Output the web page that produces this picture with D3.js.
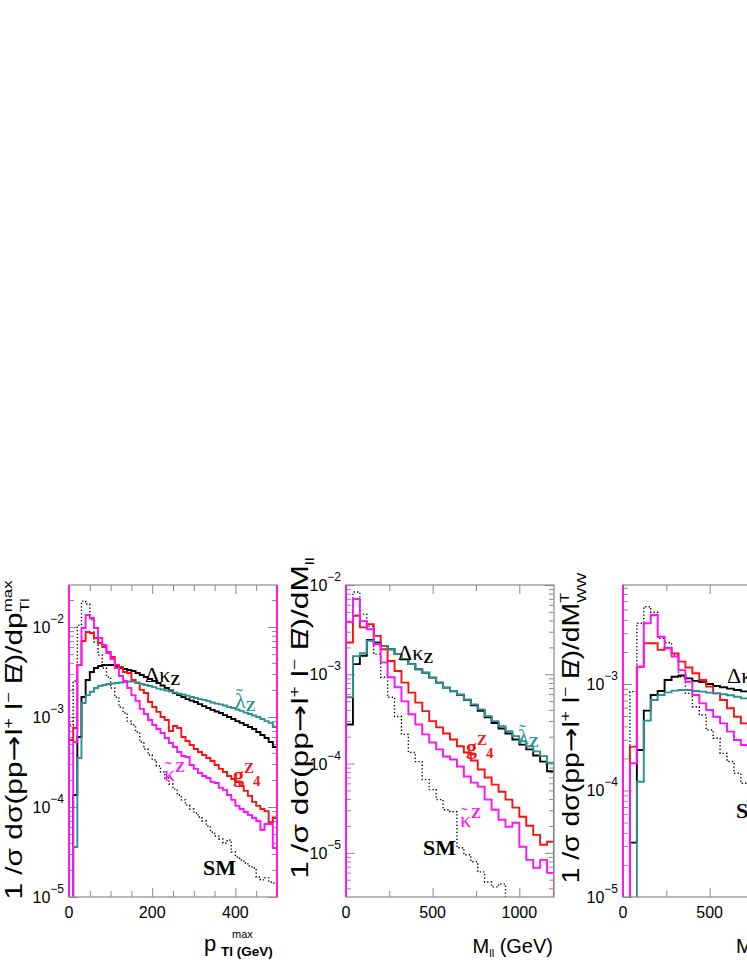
<!DOCTYPE html>
<html>
<head>
<meta charset="utf-8">
<script src="https://cdn.jsdelivr.net/npm/d3@7"></script>
<style>
  body { margin: 0; background: #fff; }
  svg { display: block; }
</style>
</head>
<body>
<div id="chart-area"></div>
<script>
// bin widths (GeV)
var ptBinWidth = 10, mllBinWidth = 40, mtBinWidth = 40;

// ---- panel 1 : p_T^max of the lepton, 10 GeV bins ----
var ptSM = [8.15e-4, 2.51e-3, 1.05e-2, 1.94e-2, 1.80e-2, 1.20e-2, 6.81e-3, 4.89e-3, 3.5e-3, 2.78e-3,
            2.10e-3, 1.67e-3, 1.29e-3, 1.11e-3, 9.0e-4, 8.15e-4, 6.81e-4, 5.27e-4, 4.41e-4, 3.78e-4,
            3.33e-4, 2.86e-4, 2.45e-4, 2.10e-4, 1.80e-4, 1.58e-4, 1.36e-4, 1.20e-4, 1.05e-4, 9.5e-5,
            8.58e-5, 7.74e-5, 6.99e-5, 6.15e-5, 5.27e-5, 4.76e-5, 4.41e-5, 3.98e-5, 4.3e-5, 3.16e-5,
            2.78e-5, 2.58e-5, 2.39e-5, 2.21e-5, 2.10e-5, 1.67e-5, 1.55e-5, 1.63e-5, 1.47e-5, 1.43e-5];
var ptDk = [0, 1.36e-4, 6.0e-4, 1.67e-3, 2.58e-3, 3.16e-3, 3.5e-3, 3.69e-3, 3.78e-3, 3.78e-3,
            3.78e-3, 3.69e-3, 3.5e-3, 3.41e-3, 3.33e-3, 3.24e-3, 3.08e-3, 2.93e-3, 2.78e-3, 2.64e-3,
            2.51e-3, 2.39e-3, 2.24e-3, 2.10e-3, 1.97e-3, 1.85e-3, 1.75e-3, 1.67e-3, 1.58e-3, 1.52e-3,
            1.47e-3, 1.39e-3, 1.32e-3, 1.26e-3, 1.20e-3, 1.15e-3, 1.11e-3, 1.05e-3, 1.0e-3, 9.5e-4,
            9.0e-4, 8.6e-4, 8.15e-4, 7.74e-4, 7.36e-4, 6.81e-4, 6.31e-4, 5.85e-4, 5.27e-4, 4.64e-4];
var ptG4 = [5.55e-4, 7.55e-4, 3.78e-3, 6.99e-3, 8.8e-3, 8.58e-3, 7.55e-3, 6.64e-3, 6.0e-3, 5.27e-3,
            4.64e-3, 3.78e-3, 3.59e-3, 3.16e-3, 3.08e-3, 2.58e-3, 2.39e-3, 2.0e-3, 1.85e-3, 1.47e-3,
            1.29e-3, 1.14e-3, 1.0e-3, 9.26e-4, 6.99e-4, 7.94e-4, 7.55e-4, 6.0e-4, 5.41e-4, 4.89e-4,
            4.41e-4, 4.08e-4, 3.78e-4, 3.5e-4, 3.25e-4, 2.93e-4, 2.65e-4, 2.45e-4, 2.21e-4, 2.05e-4,
            1.90e-4, 1.71e-4, 1.51e-4, 1.33e-4, 1.14e-4, 1.03e-4, 9.5e-5, 9.0e-5, 6.8e-5, 7.55e-5];
var ptLt = [0, 3.6e-5, 3.5e-4, 1.43e-3, 1.75e-3, 1.91e-3, 2.10e-3, 2.21e-3, 2.27e-3, 2.33e-3,
            2.36e-3, 2.39e-3, 2.42e-3, 2.45e-3, 2.47e-3, 2.47e-3, 2.42e-3, 2.33e-3, 2.27e-3, 2.21e-3,
            2.15e-3, 2.07e-3, 2.02e-3, 1.97e-3, 1.92e-3, 1.87e-3, 1.82e-3, 1.78e-3, 1.73e-3, 1.67e-3,
            1.63e-3, 1.58e-3, 1.55e-3, 1.51e-3, 1.45e-3, 1.41e-3, 1.38e-3, 1.34e-3, 1.29e-3, 1.26e-3,
            1.21e-3, 1.17e-3, 1.12e-3, 1.08e-3, 1.04e-3, 1.0e-3, 9.5e-4, 9.0e-4, 8.6e-4, 7.74e-4];
var ptKt = [0, 5.27e-4, 3.78e-3, 9.75e-3, 1.36e-2, 1.26e-2, 9.75e-3, 7.55e-3, 6.31e-3, 5.14e-3,
            4.41e-3, 3.5e-3, 2.86e-3, 2.51e-3, 2.10e-3, 1.75e-3, 1.51e-3, 1.23e-3, 1.08e-3, 9.26e-4,
            8.15e-4, 7.36e-4, 6.64e-4, 5.85e-4, 5.14e-4, 4.64e-4, 4.08e-4, 3.69e-4, 3.59e-4, 2.93e-4,
            2.65e-4, 2.39e-4, 2.21e-4, 2.10e-4, 1.90e-4, 1.85e-4, 1.63e-4, 1.55e-4, 1.36e-4, 1.20e-4,
            1.03e-4, 9.5e-5, 8.8e-5, 8.15e-5, 7.55e-5, 6.99e-5, 5.55e-5, 6.47e-5, 6.47e-5, 3.5e-5];

// ---- panel 2 : M_ll, 40 GeV bins ----
var mllSM = [3.84e-3, 8.34e-3, 4.72e-3, 3.46e-3, 1.68e-3, 9.25e-4, 5.52e-4, 3.37e-4, 2.12e-4, 1.33e-4,
             1.05e-4, 6.61e-5, 5.1e-5, 3.94e-5, 3.04e-5, 2.89e-5, 1.14e-5, 9.5e-6, 7.93e-6, 6.12e-6,
             4.72e-6, 4.15e-6, 4.49e-6, 0, 0, 0, 0, 0, 0, 0];
var mllDk = [2.74e-4, 1.30e-3, 1.61e-3, 2.42e-3, 2.27e-3, 2.08e-3, 1.91e-3, 1.68e-3, 1.47e-3, 1.30e-3,
             1.14e-3, 1.04e-3, 9.18e-4, 8.07e-4, 7.09e-4, 6.44e-4, 5.88e-4, 5.17e-4, 4.48e-4, 3.89e-4,
             3.29e-4, 2.85e-4, 2.47e-4, 2.17e-4, 1.86e-4, 1.63e-4, 1.44e-4, 1.23e-4, 1.05e-4, 8.19e-5];
var mllG4 = [2.27e-3, 4.52e-3, 3.35e-3, 3.65e-3, 2.69e-3, 1.91e-3, 1.41e-3, 1.09e-3, 8.07e-4, 6.23e-4,
             4.81e-4, 3.87e-4, 2.99e-4, 2.54e-4, 2.17e-4, 1.86e-4, 1.56e-4, 1.33e-4, 1.08e-4, 8.57e-5,
             6.97e-5, 5.81e-5, 4.84e-5, 3.94e-5, 3.21e-5, 2.54e-5, 2.01e-5, 1.59e-5, 1.23e-5, 1.33e-5];
var mllLt = [5.52e-4, 1.59e-3, 1.72e-3, 2.37e-3, 2.17e-3, 2.08e-3, 1.91e-3, 1.68e-3, 1.47e-3, 1.30e-3,
             1.14e-3, 1.04e-3, 9.18e-4, 8.07e-4, 7.09e-4, 6.49e-4, 5.96e-4, 5.24e-4, 4.60e-4, 4.04e-4,
             3.40e-4, 2.99e-4, 2.62e-4, 2.31e-4, 2.03e-4, 1.78e-4, 1.56e-4, 1.37e-4, 1.21e-4, 1.02e-4];
var mllKt = [3.84e-3, 6.96e-3, 3.94e-3, 3.2e-3, 2.17e-3, 1.36e-3, 9.25e-4, 7.15e-4, 4.97e-4, 3.56e-4,
             2.74e-4, 2.12e-4, 1.72e-4, 1.44e-4, 1.20e-4, 1.11e-4, 9.25e-5, 7.15e-5, 6.12e-5, 5.52e-5,
             3.94e-5, 3.04e-5, 2.35e-5, 1.96e-5, 2.17e-5, 1.17e-5, 8.34e-6, 6.78e-6, 8.34e-6, 5.96e-6];

// ---- panel 3 : transverse WW mass, 40 GeV bins (only the visible part) ----
var mtSM = [0, 8.47e-4, 3.72e-3, 5.32e-3, 4.71e-3, 2.69e-3, 2.44e-3, 1.87e-3, 1.17e-3, 8.17e-4,
            6.12e-4, 5.12e-4, 3.70e-4, 3.09e-4, 2.23e-4, 1.87e-4, 1.45e-4, 1.17e-4, 1.01e-4];
var mtDk = [0, 3.24e-5, 2.40e-4, 5.62e-4, 7.88e-4, 8.6e-4, 1.09e-3, 1.17e-3, 1.20e-3, 1.13e-3,
            1.07e-3, 1.04e-3, 1.0e-3, 9.58e-4, 9.31e-4, 9.04e-4, 8.79e-4, 8.53e-4, 8.29e-4];
var mtG4 = [0, 2.58e-4, 1.45e-3, 2.41e-3, 2.41e-3, 2.09e-3, 2.18e-3, 1.94e-3, 1.62e-3, 1.43e-3,
            1.26e-3, 1.09e-3, 9.44e-4, 8.17e-4, 7.08e-4, 5.91e-4, 4.93e-4, 4.27e-4, 3.83e-4];
var mtLt = [0, 0, 1.21e-4, 4.53e-4, 7.08e-4, 7.88e-4, 8.35e-4, 8.66e-4, 8.79e-4, 8.79e-4,
            8.60e-4, 8.47e-4, 8.29e-4, 8.17e-4, 8.0e-4, 7.83e-4, 7.6e-4, 7.33e-4, 7.18e-4];
var mtKt = [0, 1.80e-4, 1.45e-3, 3.72e-3, 4.45e-3, 2.78e-3, 2.16e-3, 1.81e-3, 1.35e-3, 1.05e-3,
            7.88e-4, 6.58e-4, 5.7e-4, 4.93e-4, 4.27e-4, 3.57e-4, 2.98e-4, 2.67e-4, 2.49e-4];

var colors = {sm: "#000", dk: "#000", g4: "#ff1010", lt: "#2a9292", kt: "#ff10ff"};
var sans = "'Liberation Sans', Arial, Helvetica, sans-serif";
var serif = "'Liberation Serif', 'Times New Roman', serif";

var plotTop = 585, plotH = 312, plotW = 208;

var panels = [
  {left: 69, xMax: 500, binW: ptBinWidth, yDom: [1e-5, 2.93e-2], xStep: 50, xMajorStep: 200,
   xLabels: [0, 200, 400], magentaRight: true,
   series: {sm: ptSM, dk: ptDk, g4: ptG4, lt: ptLt, kt: ptKt}},
  {left: 346, xMax: 1200, binW: mllBinWidth, yDom: [3.2e-6, 1e-2], xStep: 250, xMajorStep: 500,
   xLabels: [0, 500, 1000], magentaRight: false,
   series: {sm: mllSM, dk: mllDk, g4: mllG4, lt: mllLt, kt: mllKt}},
  {left: 623, xMax: 1200, binW: mtBinWidth, yDom: [1e-5, 8.5e-3], xStep: 250, xMajorStep: 500,
   xLabels: [0, 500, 1000], magentaRight: false,
   series: {sm: mtSM, dk: mtDk, g4: mtG4, lt: mtLt, kt: mtKt}}
];

var svg = d3.select("#chart-area").append("svg")
    .attr("width", 747)
    .attr("height", 967)

function histPoints(vals, bw) {
  var pts = [[0, 0]];
  vals.forEach(function(v, i) {
    pts.push([i * bw, v]);
    pts.push([(i + 1) * bw, v]);
  });
  pts.push([vals.length * bw, 0]);
  return pts;
}

panels.forEach(function(p, pi) {
  var g = svg.append("g").attr("transform", "translate(" + p.left + "," + plotTop + ")");

  var x = d3.scaleLinear().domain([0, p.xMax]).range([0, plotW]);
  var y = d3.scaleLog().domain(p.yDom).range([plotH, 0]);

  g.append("clipPath").attr("id", "clip" + pi)
    .append("rect").attr("width", plotW).attr("height", plotH);

  // ticks (inside the frame, all four sides)
  var yt = y.ticks();
  var isDecade = function(d) { return Math.abs(Math.log10(d) - Math.round(Math.log10(d))) < 1e-6; };
  var yMajor = yt.filter(isDecade), yMinor = yt.filter(function(d) { return !isDecade(d); });
  var xt = d3.range(0, p.xMax + 1, p.xStep);
  var xMajor = xt.filter(function(d) { return d % p.xMajorStep === 0; });
  var xMinor = xt.filter(function(d) { return d % p.xMajorStep !== 0; });

  function styleAxis(sel) {
    sel.select(".domain").remove();
    sel.selectAll(".tick line").attr("stroke", "#8a8a8a").attr("stroke-width", 1);
  }
  [[yMajor, 9], [yMinor, 5]].forEach(function(a) {
    g.append("g").call(d3.axisLeft(y).tickValues(a[0]).tickSize(-a[1]).tickFormat("")).call(styleAxis);
    g.append("g").attr("transform", "translate(" + plotW + ",0)")
      .call(d3.axisRight(y).tickValues(a[0]).tickSize(-a[1]).tickFormat("")).call(styleAxis);
  });
  [[xMajor, 9], [xMinor, 6]].forEach(function(a) {
    g.append("g").attr("transform", "translate(0," + plotH + ")")
      .call(d3.axisBottom(x).tickValues(a[0]).tickSize(-a[1]).tickFormat("")).call(styleAxis);
    g.append("g").call(d3.axisTop(x).tickValues(a[0]).tickSize(-a[1]).tickFormat("")).call(styleAxis);
  });

  // histograms
  var line = d3.line()
    .x(function(d) { return x(d[0]); })
    .y(function(d) { return d[1] > 0 ? y(d[1]) : plotH + 6; });

  var hg = g.append("g").attr("clip-path", "url(#clip" + pi + ")");
  ["sm", "dk", "g4", "lt", "kt"].forEach(function(k) {
    hg.append("path")
      .datum(histPoints(p.series[k], p.binW))
      .attr("d", line)
      .attr("fill", "none")
      .attr("stroke", colors[k])
      .attr("stroke-width", k === "sm" ? 1.4 : 1.9)
      .attr("stroke-dasharray", k === "sm" ? "1.3,2.2" : null)
      .attr("stroke-linejoin", "miter");
  });

  // frame
  g.append("rect").attr("width", plotW).attr("height", plotH)
    .attr("fill", "none").attr("stroke", "#8a8a8a").attr("stroke-width", 1.2);
  g.append("line").attr("x1", 0).attr("x2", 0).attr("y1", 0).attr("y2", plotH)
    .attr("stroke", colors.kt).attr("stroke-width", 1.9);
  if (p.magentaRight) {
    g.append("line").attr("x1", plotW).attr("x2", plotW).attr("y1", 0).attr("y2", plotH)
      .attr("stroke", colors.kt).attr("stroke-width", 1.9);
  }

  // y tick labels 10^-n
  g.selectAll(".ylab").data(yMajor).join("text")
    .attr("class", "ylab")
    .attr("x", -5)
    .attr("y", function(d) { return y(d) + 6; })
    .attr("text-anchor", "end")
    .attr("font-family", sans)
    .attr("font-size", 16)
    .each(function(d) {
      var t = d3.select(this);
      t.append("tspan").text("10");
      t.append("tspan").attr("dy", -10).attr("font-size", 12)
        .text("\u2212" + Math.round(-Math.log10(d)));
    });

  // x tick labels
  g.selectAll(".xlab").data(p.xLabels).join("text")
    .attr("class", "xlab")
    .attr("x", function(d) { return x(d); })
    .attr("y", plotH + 21)
    .attr("text-anchor", "middle")
    .attr("font-family", sans)
    .attr("font-size", 16)
    .text(function(d) { return d; });
});

// rotated y titles
function yTitle(xBase, cy, len, mainVar, sup, sub) {
  var t = svg.append("text").attr("font-family", sans).attr("font-size", 23)
    .attr("text-anchor", "middle");
  t.append("tspan").text("1 /\u03c3 d\u03c3(pp");
  t.append("tspan").attr("font-family", "'DejaVu Sans', sans-serif").attr("font-size", 24).text("\u2192");
  t.append("tspan").text("l");
  t.append("tspan").attr("dy", -9).attr("font-size", 14).text("+");
  t.append("tspan").attr("dy", 9).text(" l");
  t.append("tspan").attr("dy", -9).attr("font-size", 14).text("\u2212");
  t.append("tspan").attr("dy", 9).text(" E");
  t.append("tspan").attr("dx", -6).text("/");
  t.append("tspan").text(")/d" + mainVar);
  if (sup) {
    var s = t.append("tspan").attr("dy", -10).attr("font-size", 13).text(sup);
    t.append("tspan").attr("dx", -s.node().getComputedTextLength()).attr("dy", 17)
      .attr("font-size", 13).text(sub);
  } else {
    t.append("tspan").attr("dy", 6).attr("font-size", 13).text(sub);
  }
  var bb = t.node().getBBox();
  t.attr("transform", "translate(" + xBase + "," + cy + ") rotate(-90) scale(" + (len / bb.width) + ",1)");
}
yTitle(22, 740, 320, "p", "max", "Tl");
yTitle(308, 718, 322, "M", null, "ll");
yTitle(579, 728, 312, "M", "T", "WW");

// x titles
var xt1 = svg.append("g");
xt1.append("text").attr("x", 204).attr("y", 951).attr("font-family", sans).attr("font-size", 22).text("p");
xt1.append("text").attr("x", 232).attr("y", 938).attr("font-family", sans).attr("font-size", 11).text("max");
xt1.append("text").attr("x", 221).attr("y", 956).attr("font-family", sans).attr("font-size", 13.5)
  .attr("font-weight", "bold").text("Tl (GeV)");

var xt2 = svg.append("text").attr("x", 553).attr("y", 953).attr("text-anchor", "end")
  .attr("font-family", sans).attr("font-size", 20);
xt2.append("tspan").text("M");
xt2.append("tspan").attr("dy", 4).attr("font-size", 11).text("ll");
xt2.append("tspan").attr("dy", -4).text(" (GeV)");

svg.append("text").attr("x", 736).attr("y", 953).attr("font-family", sans).attr("font-size", 20).text("M");

// curve labels
function coupling(x0, y0, color, base, tilde, supTxt, subTxt, bold) {
  var t = svg.append("text").attr("x", x0).attr("y", y0).attr("font-family", serif)
    .attr("font-size", 22).attr("fill", color).attr("font-weight", bold ? "bold" : "normal");
  t.append("tspan").text(base);
  if (tilde) {
    svg.append("text").attr("x", x0 + 1).attr("y", y0 - 5).attr("font-family", serif)
      .attr("font-size", 20).attr("fill", color).text("\u02dc");
  }
  if (supTxt) t.append("tspan").attr("dy", -9).attr("font-size", 15).attr("font-weight", "bold").text(supTxt);
  if (subTxt) t.append("tspan").attr("dy", supTxt ? 13 : 3).attr("dx", supTxt ? -1 : 0)
    .attr("font-size", 15).attr("font-weight", "bold").text(subTxt);
}
function smLabel(x0, y0) {
  svg.append("text").attr("x", x0).attr("y", y0).attr("font-family", serif).attr("font-size", 22)
    .attr("font-weight", "bold").text("SM");
}

// panel 1
coupling(145, 682, colors.dk, "\u0394\u03ba", false, null, "Z");
coupling(235, 708, colors.lt, "\u03bb", true, null, "Z");
coupling(233, 782, colors.g4, "g", false, "Z", "4", true);
coupling(164, 781, colors.kt, "\u03ba", true, "Z", null);
smLabel(203, 875);
// panel 2
coupling(398, 660, colors.dk, "\u0394\u03ba", false, null, "Z");
coupling(518, 744, colors.lt, "\u03bb", true, null, "Z");
coupling(466, 754, colors.g4, "g", false, "Z", "4", true);
coupling(460, 827, colors.kt, "\u03ba", true, "Z", null);
smLabel(423, 855);
// panel 3
coupling(727, 683, colors.dk, "\u0394\u03ba", false, null, "Z");
smLabel(736, 818);
</script>
</body>
</html>
